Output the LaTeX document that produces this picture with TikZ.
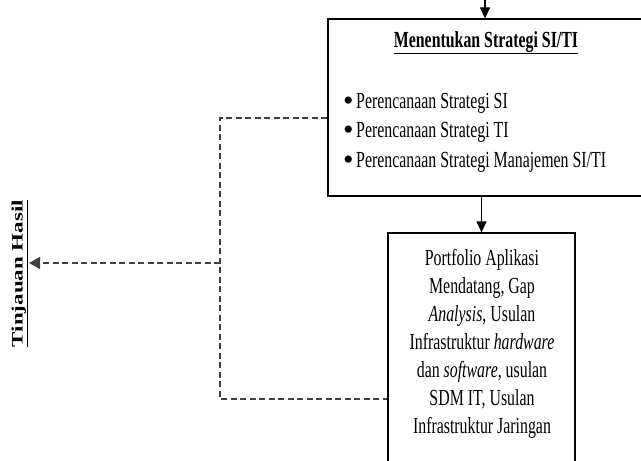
\documentclass[tikz,border=0pt]{standalone}
\usepackage{graphicx}
\usepackage{fontspec}
\setmainfont{Liberation Serif}[FakeStretch=0.69]
\newfontfamily\fullserif{Liberation Serif}
\usetikzlibrary{arrows.meta}
\newcommand\mybul{\makebox[13pt][l]{\raisebox{-2pt}{\scalebox{1.3}{\fullserif\textbullet}}}}
\tikzset{
  boxstyle/.style={draw=black, line width=1.3pt, rectangle, inner sep=0pt},
  txtstyle/.style={inner sep=0pt, font=\fontsize{23}{28}\selectfont},
  solidarrow/.style={line width=1.3pt, -{Triangle[length=11pt,width=10pt]}},
  dashline/.style={line width=1.8pt, draw=black!75, dash pattern=on 6pt off 3.5pt},
  dasharrow/.style={dashline, -{Triangle[length=11pt,width=12pt]}}
}
\begin{document}
\begin{tikzpicture}[x=1pt,y=-1pt]
\useasboundingbox (0,0) rectangle (641,461);
\clip (0,0) rectangle (641,461);
% boxes
\node[boxstyle, minimum width=317pt, minimum height=177pt] (box1) at (486.5,107.5) {};
\node[boxstyle, minimum width=187pt, minimum height=237pt] (box2) at (481.5,351.5) {};
% texts in top box
\node[txtstyle, anchor=base, font=\fontsize{23}{28}\selectfont\bfseries] (title) at (486,47) {\underline{Menentukan Strategi SI/TI}};
\node[txtstyle, anchor=north west, align=left, font=\fontsize{23}{29.5}\selectfont] (list) at (343,93) {\mybul Perencanaan Strategi SI\\\mybul Perencanaan Strategi TI\\\mybul Perencanaan Strategi Manajemen SI/TI};
% text in second box
\node[txtstyle, anchor=north, align=center] (out) at (482,249.5) {Portfolio Aplikasi\\Mendatang, Gap\\\textit{Analysis}, Usulan\\Infrastruktur \textit{hardware}\\dan \textit{software}, usulan\\SDM IT, Usulan\\Infrastruktur Jaringan};
% rotated label
\node[inner sep=1.5pt] (lbl) at (19.5,273.5) {\scalebox{0.69}[1]{\rotatebox{90}{\fullserif\bfseries\fontsize{23}{28}\selectfont\underline{Tinjauan Hasil}}}};
% solid arrows
\coordinate (topin) at (485,-2);
\draw[solidarrow] (topin) -- (topin |- box1.north);
\draw[solidarrow] (box2.north |- box1.south) -- (box2.north);
% dashed feedback
\coordinate (d1) at (220,118);
\coordinate (d2) at (220,263);
\coordinate (d3) at (220,399);
\draw[dashline] (box1.west |- d1) -- (d1) -- (d3) -- (box2.west |- d3);
\draw[dasharrow] (d2) -- (lbl.east |- d2);
\end{tikzpicture}
\end{document}
